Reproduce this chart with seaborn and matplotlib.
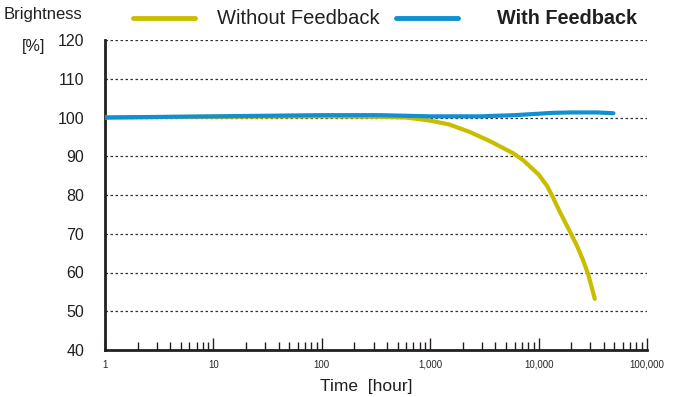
import matplotlib
matplotlib.use("Agg")
import matplotlib.pyplot as plt
import matplotlib.ticker as mticker
import numpy as np
import pandas as pd
import seaborn as sns
from matplotlib import font_manager

# Brightness over time, with and without feedback control
hours_without = [1, 10, 100, 300, 600, 1000, 1500, 2300, 3500, 5800, 7200, 10000, 12000,
                 13500, 15800, 19500, 22500, 25700, 28700, 33000]
bright_without = [100.0, 100.2, 100.3, 100.2, 100.0, 99.2, 98.2, 96.3, 94.0, 90.8, 89.0, 85.3,
                  82.3, 79.5, 75.5, 70.5, 67.0, 63.2, 59.5, 53.2]

hours_with = [1, 10, 100, 345, 1000, 2900, 6000, 13500, 20000, 35000, 49000]
bright_with = [100.0, 100.3, 100.6, 100.6, 100.3, 100.3, 100.6, 101.2, 101.3, 101.3, 101.1]

series_names = ["Without Feedback", "With Feedback"]
series_colors = ["#c9bd00", "#1090d2"]

y_ticks = [40, 50, 60, 70, 80, 90, 100, 110, 120]
x_decades = [1, 10, 100, 1000, 10000, 100000]

df = pd.concat([
    pd.DataFrame({"hours": hours_without, "brightness": bright_without, "series": series_names[0]}),
    pd.DataFrame({"hours": hours_with, "brightness": bright_with, "series": series_names[1]}),
])

sns.set_theme(style="white")
available = {f.name for f in font_manager.fontManager.ttflist}
family = "Liberation Sans Narrow" if "Liberation Sans Narrow" in available else "Liberation Sans"
plt.rcParams["font.family"] = [family, "DejaVu Sans"]

fig = plt.figure(figsize=(6.81, 3.97), dpi=100)
ax = fig.add_axes([105 / 681, 1 - 350 / 397, 542 / 681, 310 / 397])

# dotted horizontal reference lines
for yv in y_ticks[1:]:
    ax.axhline(yv, color="#333333", lw=0.9, ls=(0, (2, 2)), zorder=1)

sns.lineplot(data=df, x="hours", y="brightness", hue="series", hue_order=series_names,
             palette=series_colors, linewidth=3.0, ax=ax, legend=False, sort=True,
             estimator=None, zorder=3)
for line in ax.get_lines():
    line.set_solid_joinstyle("round")
    line.set_solid_capstyle("round")

ax.set_xscale("log")
ax.set_xlim(1, 100000)
ax.set_ylim(40, 120)
ax.set_yticks(y_ticks)
ax.set_yticklabels([str(v) for v in y_ticks], fontsize=11.5, color="#231f20")
ax.set_xticks(x_decades)
ax.xaxis.set_major_formatter(mticker.FuncFormatter(lambda v, p: f"{int(round(v)):,}"))
ax.xaxis.set_minor_locator(mticker.LogLocator(base=10, subs=np.arange(2, 10), numticks=20))
ax.xaxis.set_minor_formatter(mticker.NullFormatter())
ax.tick_params(axis="x", which="major", direction="in", length=9, width=1.0, color="#231f20",
               labelsize=7, pad=7, bottom=True)
ax.tick_params(axis="x", which="minor", direction="in", length=6, width=1.0, color="#231f20", bottom=True)
ax.tick_params(axis="y", which="both", length=0, pad=15)

for side in ["top", "right"]:
    ax.spines[side].set_visible(False)
for side in ["left", "bottom"]:
    ax.spines[side].set_color("#231f20")
    ax.spines[side].set_linewidth(2.0)

ax.set_xlabel("")
ax.set_ylabel("")
fig.text(366 / 681, 1 - 386 / 397, "Time  [hour]", fontsize=12.5, color="#231f20",
         va="center", ha="center")

fig.text(4 / 681, 1 - 14 / 397, "Brightness", fontsize=12, color="#231f20", va="center", ha="left")
fig.text(22 / 681, 1 - 46 / 397, "[%]", fontsize=11.5, color="#231f20", va="center", ha="left")

# legend drawn across the top
ly = 1 - 18 / 397
fig.add_artist(plt.Line2D([133 / 681, 195 / 681], [ly, ly], color=series_colors[0], lw=3.5,
                          solid_capstyle="round", transform=fig.transFigure))
fig.text(217 / 681, ly, series_names[0], fontsize=14.5, color="#231f20", va="center", ha="left")
fig.add_artist(plt.Line2D([396 / 681, 458 / 681], [ly, ly], color=series_colors[1], lw=3.5,
                          solid_capstyle="round", transform=fig.transFigure))
fig.text(497 / 681, ly, series_names[1], fontsize=14.3, fontweight="bold", color="#231f20",
         va="center", ha="left")

fig.savefig("out.png", dpi=100)
